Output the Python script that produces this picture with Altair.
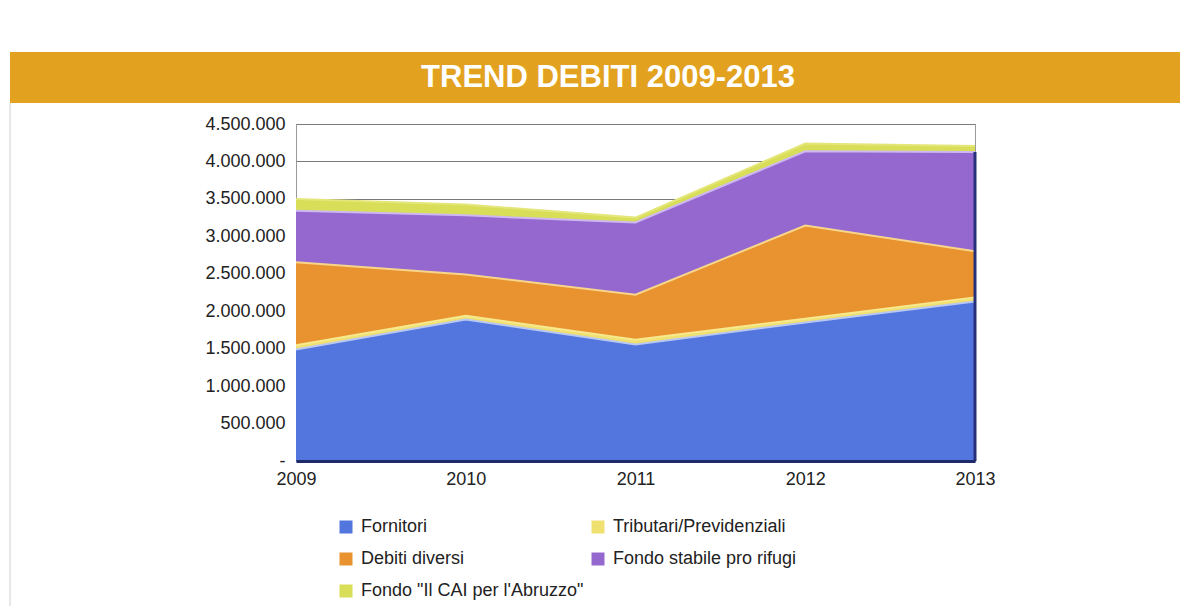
import altair as alt
import pandas as pd

# ---- data ----
years = [2009, 2010, 2011, 2012, 2013]
series_names = [
    "Fornitori",
    "Tributari/Previdenziali",
    "Debiti diversi",
    "Fondo stabile pro rifugi",
    "Fondo \"Il CAI per l'Abruzzo\"",
]
fornitori = [1490000, 1890000, 1555000, 1850000, 2130000]
tributari = [55000, 50000, 65000, 50000, 55000]
debiti_diversi = [1110000, 550000, 600000, 1245000, 615000]
fondo_stabile = [685000, 790000, 965000, 990000, 1325000]
fondo_cai = [160000, 145000, 65000, 105000, 80000]
y_ticks = [0, 500000, 1000000, 1500000, 2000000, 2500000, 3000000, 3500000, 4000000, 4500000]
title_text = "TREND DEBITI 2009-2013"

series_values = [fornitori, tributari, debiti_diversi, fondo_stabile, fondo_cai]
fill_colors = ["#5375DE", "#F0E070", "#E99230", "#9568D0", "#D9DE58"]
edge_colors = ["#B9C8F2", "#F6E98E", "#F7D68A", "#CDB8F2", "#E4E67A"]

rows = []
for i, (name, vals) in enumerate(zip(series_names, series_values)):
    for yr, v in zip(years, vals):
        rows.append({"year": yr, "series": name, "value": v, "idx": i})
df = pd.DataFrame(rows).sort_values(["year", "idx"])
df["top"] = df.groupby("year")["value"].cumsum()

edge_df = pd.DataFrame({
    "year": [years[-1]],
    "y0": [0],
    "y1": [sum(v[-1] for v in series_values[:4])],
})
title_df = pd.DataFrame({"t": [title_text]})

FONT = "Liberation Sans"

x_scale = alt.Scale(domain=[2009, 2013], nice=False)
y_scale = alt.Scale(domain=[0, 4500000], nice=False)
x_axis = alt.Axis(
    values=years, format="d", grid=False, ticks=False, tickSize=0,
    labelFontSize=18, labelPadding=9, labelColor="#222", labelFlush=False,
    labelOverlap=False,
    domainColor="#1f2a6b", domainWidth=3, zindex=1, labelFont=FONT,
)
y_axis = alt.Axis(
    values=y_ticks, tickCount=10, grid=True, gridColor="#7a7a7a", gridWidth=1,
    ticks=False, tickSize=0, domain=False, labelFontSize=18,
    labelPadding=11, labelColor="#222", labelFont=FONT,
    labelOverlap=False, labelFlush=False,
    labelExpr="datum.value == 0 ? '-' : replace(format(datum.value, ',.0f'), regexp(',', 'g'), '.')",
)

areas = alt.Chart(df).mark_area(opacity=1).encode(
    x=alt.X("year:Q", title=None, scale=x_scale, axis=x_axis),
    y=alt.Y("value:Q", stack="zero", title=None, scale=y_scale, axis=y_axis),
    color=alt.Color(
        "series:N",
        scale=alt.Scale(domain=series_names, range=fill_colors),
        legend=alt.Legend(
            orient="none", legendX=41, legendY=394, columns=2, direction="horizontal",
            title=None,
            symbolType="square", symbolSize=169, symbolStrokeWidth=0,
            labelFontSize=18, labelFont=FONT, labelColor="#222", labelLimit=320,
            labelOffset=6, columnPadding=5, rowPadding=14, padding=0,
        ),
    ),
    order=alt.Order("idx:Q", sort="ascending"),
)

edges = alt.Chart(df).mark_line(strokeWidth=2).encode(
    x=alt.X("year:Q", title=None, scale=x_scale, axis=x_axis),
    y=alt.Y("top:Q", title=None, scale=y_scale, axis=y_axis),
    stroke=alt.Stroke("series:N", scale=alt.Scale(domain=series_names, range=edge_colors), legend=None),
    order=alt.Order("year:Q"),
)

right_edge = alt.Chart(edge_df).mark_rule(color="#27307a", strokeWidth=3).encode(
    x=alt.X("year:Q", title=None, scale=x_scale, axis=x_axis),
    y=alt.Y("y0:Q", title=None, scale=y_scale, axis=y_axis),
    y2="y1:Q",
)

band = alt.Chart(title_df).mark_rect(color="#E2A220").encode(
    x=alt.value(-286), x2=alt.value(892), y=alt.value(-72), y2=alt.value(-21),
)
panel_edge = alt.Chart(title_df).mark_rule(color="#d0d0d0", strokeWidth=1).encode(
    x=alt.value(-286), y=alt.value(-21), y2=alt.value(490),
)
title = alt.Chart(title_df).mark_text(
    font=FONT, fontSize=31, fontWeight="bold", color="white", align="center", baseline="middle",
).encode(x=alt.value(312), y=alt.value(-46), text="t:N")

chart = alt.layer(band, panel_edge, title, areas, edges, right_edge).properties(
    width=679,
    height=337,
    padding={"left": 288, "top": 116, "right": 205, "bottom": 145},
    autosize=alt.AutoSizeParams(type="none"),
    background="white",
).configure_view(stroke="#9a9a9a", strokeWidth=1)

chart.save("out.html", embed_options={"renderer": "svg", "actions": False})
